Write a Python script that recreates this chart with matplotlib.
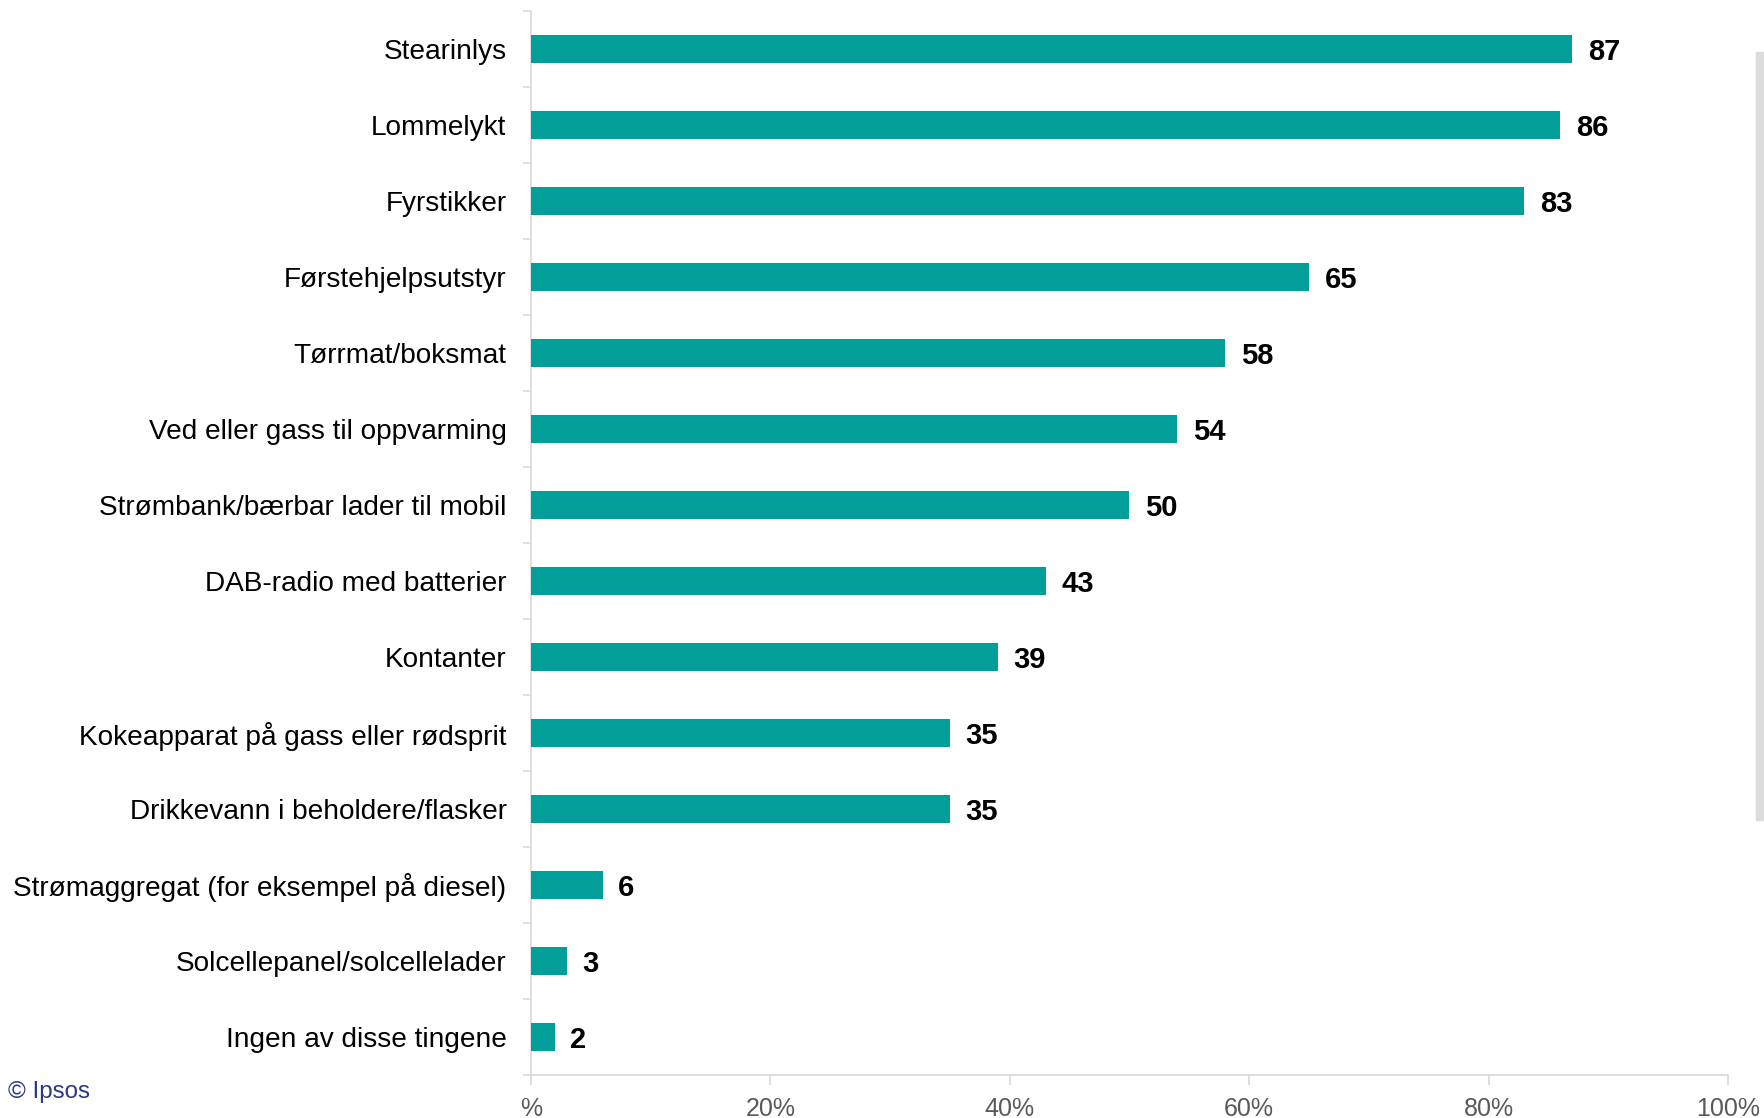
import matplotlib
matplotlib.use("Agg")
import matplotlib.pyplot as plt
from matplotlib.patches import Rectangle

categories = [
    "Stearinlys",
    "Lommelykt",
    "Fyrstikker",
    "Førstehjelpsutstyr",
    "Tørrmat/boksmat",
    "Ved eller gass til oppvarming",
    "Strømbank/bærbar lader til mobil",
    "DAB-radio med batterier",
    "Kontanter",
    "Kokeapparat på gass eller rødsprit",
    "Drikkevann i beholdere/flasker",
    "Strømaggregat (for eksempel på diesel)",
    "Solcellepanel/solcellelader",
    "Ingen av disse tingene",
]
values = [87, 86, 83, 65, 58, 54, 50, 43, 39, 35, 35, 6, 3, 2]
xticks = [0, 20, 40, 60, 80, 100]
xtick_labels = ["%", "20%", "40%", "60%", "80%", "100%"]

plt.rcParams['font.family'] = ['Liberation Sans', 'DejaVu Sans']

fig = plt.figure(figsize=(17.65, 11.18), dpi=100)
ax = fig.add_axes([0.3008, 0.0385, 0.979 - 0.3008, 0.990 - 0.0385])

ypos = list(range(len(categories)))
ax.barh(ypos, values, height=0.36, color="#029E9A", zorder=3)
for y, v in zip(ypos, values):
    ax.text(v + 1.3, y, str(v), va="center_baseline", ha="left", fontsize=21,
            fontweight="bold", color="black")

ax.set_ylim(len(categories) - 0.5, -0.5)
ax.set_xlim(0, 100)
ax.set_yticks(ypos)
ax.set_yticklabels(categories, fontsize=20.2, color="black")
ax.tick_params(axis="y", length=0, pad=17.5)
ax.set_yticks([i - 0.5 for i in range(len(categories) + 1)], minor=True)
ax.tick_params(axis="y", which="minor", length=6, width=1.2, color="#d9d9d9")

ax.set_xticks(xticks)
ax.set_xticklabels(xtick_labels, fontsize=18, color="#595959")
ax.tick_params(axis="x", length=7, width=1.2, color="#d9d9d9", pad=9)

for s in ["top", "right"]:
    ax.spines[s].set_visible(False)
for s in ["left", "bottom"]:
    ax.spines[s].set_color("#d9d9d9")
    ax.spines[s].set_linewidth(1.2)

fig.text(8 / 1765, 1 - 1092 / 1118, "© Ipsos", fontsize=17.4, color="#2B3A84",
         ha="left", va="center")
fig.patches.append(Rectangle((1756 / 1765, 1 - 820 / 1118), 9 / 1765, (820 - 52) / 1118,
                             transform=fig.transFigure, color="#dcdcdc", zorder=0))

fig.savefig("out.png", dpi=100)
